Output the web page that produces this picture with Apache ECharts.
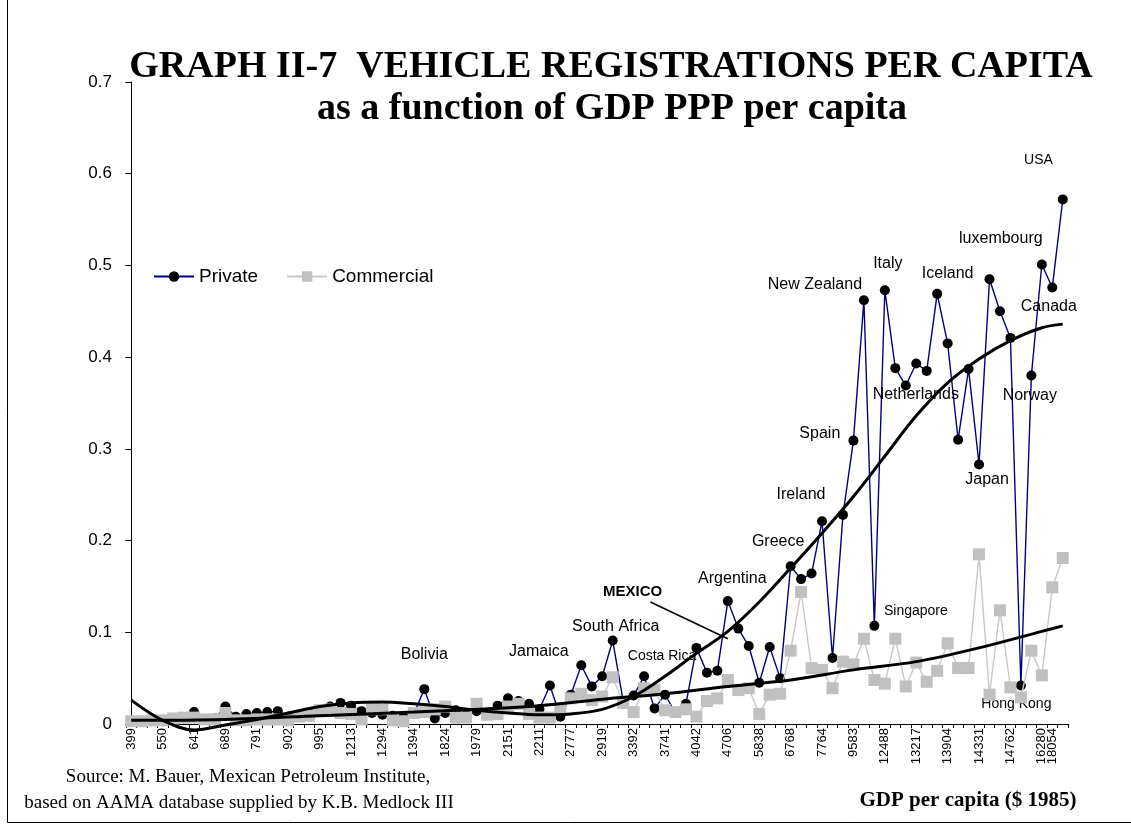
<!DOCTYPE html>
<html><head><meta charset="utf-8">
<script src="https://cdn.jsdelivr.net/npm/echarts@6/dist/echarts.min.js"></script>
<style>html,body{margin:0;padding:0;background:#fff}#c{width:1131px;height:835px}</style>
</head><body><div id="c"></div>
<script>
// GDP per capita category labels (only every third one is printed on the original axis)
const gdpLabels = [
  '399','','','550','','','641','','','689','','','791','','','902','','','995','','',
  '1213','','','1294','','','1394','','','1824','','','1979','','','2151','','','2211','','',
  '2777','','','2919','','','3392','','','3741','','','4042','','','4706','','','5838','','',
  '6768','','','7764','','','9583','','','12488','','','13217','','','13904','','','14331','','',
  '14762','','','16280','18054',''
];
const privateVals = [
  0.003,0.003,0.004,0.003,0.005,0.006,0.013,0.005,0.006,0.019,
  0.008,0.011,0.012,0.013,0.014,0.008,0.010,0.012,0.014,0.019,
  0.023,0.020,0.014,0.012,0.010,0.009,0.008,0.011,0.038,0.006,
  0.012,0.015,0.010,0.014,0.010,0.020,0.028,0.025,0.022,0.016,
  0.042,0.008,0.032,0.064,0.041,0.052,0.091,0.025,0.031,0.052,
  0.017,0.032,0.012,0.022,0.083,0.056,0.058,0.134,0.104,0.085,
  0.045,0.084,0.050,0.172,0.158,0.164,0.221,0.072,0.228,0.309,
  0.462,0.107,0.473,0.388,0.369,0.393,0.385,0.469,0.415,0.310,
  0.387,0.283,0.485,0.450,0.421,0.042,0.380,0.501,0.476,0.572
];
const commercialVals = [
  0.003,0.003,0.004,0.004,0.006,0.007,0.007,0.005,0.005,0.012,
  0.004,0.004,0.005,0.005,0.005,0.004,0.008,0.009,0.015,0.016,
  0.012,0.011,0.005,0.016,0.016,0.004,0.003,0.012,0.013,0.016,
  0.019,0.007,0.007,0.022,0.010,0.011,0.019,0.022,0.011,0.007,
  0.007,0.016,0.028,0.033,0.026,0.030,0.051,0.023,0.013,0.039,
  0.037,0.015,0.013,0.016,0.008,0.025,0.028,0.048,0.037,0.039,
  0.011,0.032,0.033,0.080,0.144,0.061,0.059,0.039,0.068,0.065,
  0.093,0.048,0.044,0.093,0.041,0.067,0.046,0.058,0.088,0.061,
  0.061,0.185,0.032,0.124,0.040,0.029,0.080,0.053,0.149,0.181
];
// trend curves at sample categories
const privTrendX = [0,3,6,9,12,15,18,21,24,27,30,33,36,39,42,45,48,51,54,57,60,63,66,69,72,75,78,81,84,87,89];
const privTrendY = [0.026,0.004,-0.0065,-0.001,0.005,0.012,0.019,0.023,0.024,0.022,0.019,0.015,0.012,0.010,0.011,0.016,0.030,0.052,0.077,0.101,0.133,0.170,0.208,0.248,0.292,0.336,0.372,0.398,0.418,0.432,0.436];
const commTrendX = [0,9,18,27,33,39,45,51,57,63,69,75,81,87,89];
const commTrendY = [0.004,0.005,0.009,0.013,0.016,0.020,0.027,0.033,0.041,0.048,0.059,0.068,0.083,0.101,0.107];
const countryIdx = [28,40,46,51,57,63,66,69,70,71,72,74,77,81,85,86,87,88,89];
const countryNames = ['Bolivia','Jamaica','South Africa','Costa Rica','Argentina','Greece','Ireland','Spain','New Zealand','Singapore','Italy','Netherlands','Iceland','Japan','Hong Kong','Norway','luxembourg','Canada','USA'];
const mexicoNote = {text:'MEXICO', at:[47.9,0.144], arrowFrom:[49.6,0.133], arrowTo:[57.0,0.093]};

// label layout (pixel offsets from the marked point)
const labelLayout = {
  'Bolivia':[0,-35,16],'Jamaica':[-11,-34,16],'South Africa':[3,-14,16],'Costa Rica':[-3,-39,14],
  'Argentina':[4.5,-23,16],'Greece':[-12.5,-25,16],'Ireland':[-21,-27,16],'Spain':[-33.6,-7,16],
  'New Zealand':[-49,-16,16],'Singapore':[41.5,-15,14],'Italy':[3,-27,16],'Netherlands':[10,9.5,16],
  'Iceland':[10.5,-20,16],'Japan':[8,15,16],'Hong Kong':[-4.5,18.5,14],'Norway':[-1.6,20.5,16],
  'luxembourg':[-41,-25.6,16],'Canada':[-3.5,19,16],'USA':[-24.3,-39,14]
};
const SANS = 'Liberation Sans, Arial, sans-serif';
const SERIF = 'Liberation Serif, Times New Roman, serif';

const lastIdx = gdpLabels.length - 2; // the crowded final label, drawn on its own axis layer
const cats = gdpLabels.map((l,i)=> l === '' ? '#'+i : l);
const privData = privateVals.map((v,i)=>{
  const k = countryIdx.indexOf(i);
  if (k < 0) return v;
  const name = countryNames[k]; const L = labelLayout[name];
  return {value:v, label:{show:true, formatter:name, position:'inside', offset:[L[0],L[1]],
    fontSize:L[2], fontFamily:SANS, color:'#000', textBorderWidth:0, align:'center', verticalAlign:'middle'}};
});
const privTrend = privTrendX.map((x,i)=>[x, privTrendY[i]]);
const commTrend = commTrendX.map((x,i)=>[x, commTrendY[i]]);
const labelStyle = {rotate:90, fontSize:13, fontFamily:SANS, color:'#000', margin:4, hideOverlap:false,
  formatter:(v)=> v.charAt(0) === '#' ? '' : v};

const chart = echarts.init(document.getElementById('c'), null, {renderer:'canvas'});
chart.setOption({
  animation:false,
  backgroundColor:'#fff',
  grid:{left:126, right:63, top:82, bottom:111, containLabel:false},
  legend:{data:['Private','Commercial'], left:148, top:262, itemGap:28, itemWidth:40, itemHeight:13,
    textStyle:{fontFamily:SANS, fontSize:19, color:'#000'}},
  xAxis:[{
    type:'category', data:cats, boundaryGap:true, position:'bottom',
    axisLine:{lineStyle:{color:'#000', width:1}},
    axisTick:{show:true, interval:0, length:4, lineStyle:{color:'#000'}},
    axisLabel:Object.assign({}, labelStyle, {interval:(i)=> gdpLabels[i] !== '' && i !== lastIdx}),
    splitLine:{show:false}
  },{
    type:'value', min:-0.5, max:89.5, show:false, position:'top'
  },{
    type:'category', data:cats, boundaryGap:true, position:'bottom',
    axisLine:{show:false}, axisTick:{show:false}, splitLine:{show:false},
    axisLabel:Object.assign({}, labelStyle, {interval:(i)=> i === lastIdx})
  }],
  yAxis:{type:'value', min:0, max:0.7, interval:0.1,
    axisLine:{show:true, lineStyle:{color:'#000', width:1}},
    axisTick:{show:true, length:6, lineStyle:{color:'#000'}},
    axisLabel:{fontSize:17, fontFamily:SANS, color:'#000', margin:14},
    splitLine:{show:false}},
  graphic:[
    {type:'text', x:611, y:67, style:{text:'GRAPH II-7  VEHICLE REGISTRATIONS PER CAPITA', font:'bold 38px '+SERIF, fill:'#000', textAlign:'center', textVerticalAlign:'middle'}},
    {type:'text', x:612, y:109, style:{text:'as a function of GDP PPP per capita', font:'bold 38px '+SERIF, fill:'#000', textAlign:'center', textVerticalAlign:'middle'}},
    {type:'text', x:248, y:777, style:{text:'Source: M. Bauer, Mexican Petroleum Institute,', font:'19px '+SERIF, fill:'#000', textAlign:'center', textVerticalAlign:'middle'}},
    {type:'text', x:239, y:803, style:{text:'based on AAMA database supplied by K.B. Medlock III', font:'19px '+SERIF, fill:'#000', textAlign:'center', textVerticalAlign:'middle'}},
    {type:'text', x:968, y:801, style:{text:'GDP per capita ($ 1985)', font:'bold 21px '+SERIF, fill:'#000', textAlign:'center', textVerticalAlign:'middle'}},
    {type:'polyline', shape:{points:[[7.5,0],[7.5,822.5],[1131,822.5]]}, style:{stroke:'#000', lineWidth:1, fill:null}}
  ],
  series:[
    {name:'Private', type:'line', data:privData, showAllSymbol:true, symbol:'circle', symbolSize:10,
      itemStyle:{color:'#000'}, lineStyle:{color:'#000080', width:1.4}, z:2},
    {name:'Commercial', type:'line', data:commercialVals, showAllSymbol:true, symbol:'rect', symbolSize:12,
      itemStyle:{color:'#c0c0c0'}, lineStyle:{color:'#c8c8c8', width:1.4}, z:3},
    {name:'privTrend', type:'line', xAxisIndex:1, data:privTrend, smooth:0.35, showSymbol:false, clip:false,
      lineStyle:{color:'#000', width:3}, z:4, silent:true},
    {name:'commTrend', type:'line', xAxisIndex:1, data:commTrend, smooth:0.35, showSymbol:false, clip:false,
      lineStyle:{color:'#000', width:3}, z:4, silent:true},
    {name:'note', type:'scatter', xAxisIndex:1, data:[mexicoNote.at], symbolSize:0, z:5, silent:true,
      itemStyle:{color:'#000', opacity:1},
      label:{show:true, formatter:mexicoNote.text, position:'inside', fontFamily:SANS, fontWeight:'bold', fontSize:15, color:'#000', textBorderWidth:0, opacity:1},
      markLine:{silent:true, symbol:['none','triangle'], symbolSize:[0,15], label:{show:false},
        lineStyle:{color:'#000', width:1.5, type:'solid', opacity:1},
        data:[[{coord:mexicoNote.arrowFrom},{coord:mexicoNote.arrowTo}]]}}
  ]
});
</script></body></html>
